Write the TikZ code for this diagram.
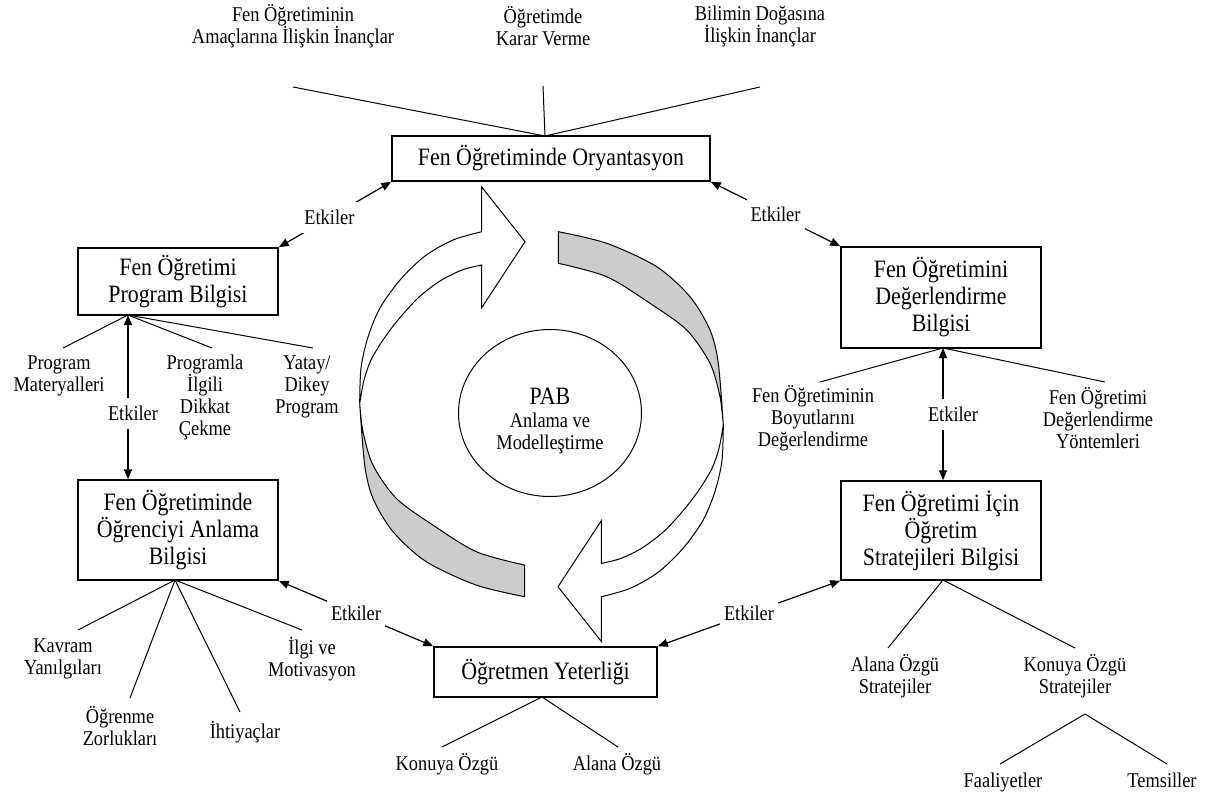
\documentclass[tikz,border=0pt]{standalone}
\usepackage{fontspec}
\setmainfont[FakeStretch=0.875]{Liberation Serif}
\usetikzlibrary{arrows.meta,calc,shapes.geometric}
\begin{document}
\begin{tikzpicture}[x=1pt,y=-1pt,
  box/.style={draw, line width=1.5pt, align=center, font=\fontsize{25}{27}\selectfont, inner sep=0pt},
  leaf/.style={align=center, font=\fontsize{21}{22}\selectfont, inner sep=0pt},
  ln/.style={line width=1pt},
  etk/.style={line width=1.2pt, {Triangle[length=10pt,width=8pt]}-{Triangle[length=10pt,width=8pt]}},
  lbl/.style={fill=white, font=\fontsize{21}{22}\selectfont, inner xsep=4pt, inner ysep=8pt},
  ring/.style={line width=1pt},
  ]
\useasboundingbox (0,0) rectangle (1205,796);

% ---------- central cycle ----------
\def\cyclearrow{%
  \draw[ring, fill=gray!40] plot[smooth] coordinates {(359.7,403.4) (364.7,465.1) (373,498.4) (393,531.7) (426.3,561.7) (476.3,585.1) (524.7,596.7)}
    -- plot[smooth] coordinates {(524.7,565.1) (476.3,551.7) (433,525.1) (396.3,498.4) (373,465.1) (363,431.7) (359.7,403.4)} -- cycle;
  \draw[ring, fill=white] plot[smooth] coordinates {(359.7,403.4) (361,368) (368,337) (380,308) (400,280) (425,256) (453,240) (481.7,231.7)}
    -- (481.7,187) -- (525,241.7) -- (481.7,307.7)
    -- plot[smooth] coordinates {(481.7,265) (462,270) (440,281) (418,298) (398,320) (383,340) (371,360) (364,380) (359.7,403.4)} -- cycle;
}
\cyclearrow
\begin{scope}[rotate around={180:(541.5,414.2)}]
\cyclearrow
\end{scope}

\node[draw, ellipse, ring, minimum width=183pt, minimum height=167pt] (pab) at (550,413) {};
\node[align=center, inner sep=0pt, font=\fontsize{21}{22.5}\selectfont] (pabt) at (550,421)
  {{\fontsize{25}{27}\selectfont PAB}\\Anlama ve\\Modelleştirme};

% ---------- boxes ----------
\node[box, minimum width=318pt, minimum height=45pt] (ori) at (551,158.5) {Fen Öğretiminde Oryantasyon};
\node[box, minimum width=200pt, minimum height=67pt] (prog) at (178,281.5) {Fen Öğretimi\\Program Bilgisi};
\node[box, minimum width=200pt, minimum height=100pt] (ogr) at (178,530) {Fen Öğretiminde\\Öğrenciyi Anlama\\Bilgisi};
\node[box, minimum width=223pt, minimum height=50pt] (yet) at (545.5,672) {Öğretmen Yeterliği};
\node[box, minimum width=200pt, minimum height=101pt] (deg) at (941,297.5) {Fen Öğretimini\\Değerlendirme\\Bilgisi};
\node[box, minimum width=200pt, minimum height=99pt] (str) at (941,530.5) {Fen Öğretimi İçin\\Öğretim\\Stratejileri Bilgisi};

% ---------- leaf labels ----------
\node[leaf] (t1) at (293,26) {Fen Öğretiminin\\Amaçlarına İlişkin İnançlar};
\node[leaf] (t2) at (543,26) {Öğretimde\\Karar Verme};
\node[leaf] (t3) at (760,26) {Bilimin Doğasına\\İlişkin İnançlar};

\node[leaf] (pm) at (59,376) {Program\\Materyalleri};
\node[leaf] (pi) at (205,397) {Programla\\İlgili\\Dikkat\\Çekme};
\node[leaf] (yd) at (307,387) {Yatay/\\Dikey\\Program};

\node[leaf] (kv) at (63,659) {Kavram\\Yanılgıları};
\node[leaf] (oz) at (120,726) {Öğrenme\\Zorlukları};
\node[leaf] (ih) at (245,732) {İhtiyaçlar};
\node[leaf] (im) at (312,659) {İlgi ve\\Motivasyon};

\node[leaf] (ko) at (447,764) {Konuya Özgü};
\node[leaf] (al) at (617,764) {Alana Özgü};

\node[leaf] (fb) at (813,418) {Fen Öğretiminin\\Boyutlarını\\Değerlendirme};
\node[leaf] (fy) at (1098,418) {Fen Öğretimi\\Değerlendirme\\Yöntemleri};

\node[leaf] (as) at (895,676) {Alana Özgü\\Stratejiler};
\node[leaf] (ks) at (1075,676) {Konuya Özgü\\Stratejiler};
\node[leaf, anchor=base] (fa) at (1003,787) {Faaliyetler};
\node[leaf, anchor=base] (te) at (1162,787) {Temsiller};

% ---------- apex and free-end coordinates ----------
\coordinate (oa) at (545,136);
\coordinate (t1e) at (293,87);
\coordinate (t2e) at (543,86);
\coordinate (t3e) at (760,87);

\coordinate (pa) at (128,315);
\coordinate (pme) at (63,348);
\coordinate (pie) at (212,348);
\coordinate (yde) at (313,348);

\coordinate (ga) at (175,580);
\coordinate (kve) at (78,630);
\coordinate (oze) at (130,698);
\coordinate (ihe) at (240,712);
\coordinate (ime) at (302,630);

\coordinate (ya) at (542,697);
\coordinate (koe) at (442,747);
\coordinate (ale) at (618,747);

\coordinate (da) at (943,348);
\coordinate (fbe) at (820,382);
\coordinate (fye) at (1105,382);

\coordinate (sa) at (943,580);
\coordinate (ase) at (888,648);
\coordinate (kse) at (1075,648);
\coordinate (ka) at (1085,714);
\coordinate (fae) at (1000,764);
\coordinate (tee) at (1167,764);

% ---------- plain connectors ----------
\draw[ln] (t1e) -- (oa);
\draw[ln] (t2e) -- (oa);
\draw[ln] (t3e) -- (oa);

\draw[ln] (pa) -- (pme);
\draw[ln] (pa) -- (pie);
\draw[ln] (pa) -- (yde);

\draw[ln] (ga) -- (kve);
\draw[ln] (ga) -- (oze);
\draw[ln] (ga) -- (ihe);
\draw[ln] (ga) -- (ime);

\draw[ln] (ya) -- (koe);
\draw[ln] (ya) -- (ale);

\draw[ln] (da) -- (fbe);
\draw[ln] (da) -- (fye);

\draw[ln] (sa) -- (ase);
\draw[ln] (sa) -- (kse);
\draw[ln] (ka) -- (fae);
\draw[ln] (ka) -- (tee);

% ---------- Etkiler arrows ----------
\draw[etk] (ori.south west) -- node[lbl, pos=0.55]{Etkiler} (prog.north east);
\draw[etk] (ori.south east) -- node[lbl, pos=0.5]{Etkiler} (deg.north west);
\draw[etk] (pa) -- node[lbl, pos=0.6, xshift=5pt]{Etkiler} (pa |- ogr.north);
\draw[etk] (da) -- node[lbl, pos=0.5, xshift=10pt]{Etkiler} (da |- str.north);
\draw[etk] (ogr.south east) -- node[lbl]{Etkiler} (yet.north west);
\draw[etk] (yet.north east) -- node[lbl]{Etkiler} (str.south west);
\end{tikzpicture}
\end{document}
